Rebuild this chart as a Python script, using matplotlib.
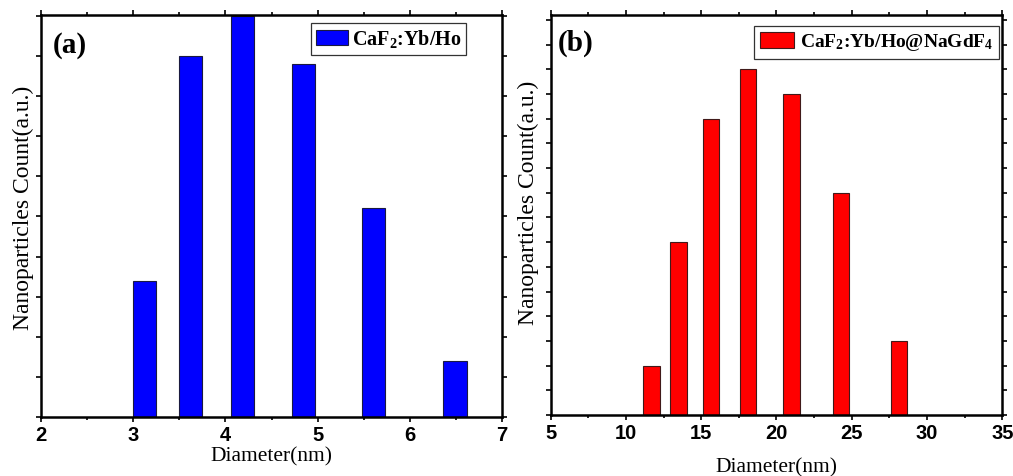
import matplotlib
matplotlib.use("Agg")
import matplotlib.pyplot as plt
from matplotlib.ticker import MultipleLocator

plt.rcParams["mathtext.fontset"] = "custom"
plt.rcParams["mathtext.rm"] = "Liberation Serif:bold"
plt.rcParams["mathtext.bf"] = "Liberation Serif:bold"
plt.rcParams["mathtext.default"] = "rm"

# (a) CaF2:Yb/Ho
d_core = [3.125, 3.62, 4.19, 4.845, 5.61, 6.49]
n_core = [3.4, 9.0, 10.0, 8.8, 5.2, 1.39]

# (b) CaF2:Yb/Ho@NaGdF4
d_shell = [11.7, 13.5, 15.65, 18.1, 21.0, 24.3, 28.15]
n_shell = [2, 7, 12, 14, 13, 9, 3]

serif = "Liberation Serif"
sans = "Liberation Sans"

fig = plt.figure(figsize=(10.13, 4.76), dpi=100)
ax1 = fig.add_axes([0.0405, 0.124, 0.4551, 0.8445])
ax2 = fig.add_axes([0.5436, 0.1282, 0.4458, 0.8403])


def style(ax, xlim, ylim, major, minor):
    ax.set_xlim(*xlim)
    ax.set_ylim(*ylim)
    ax.xaxis.set_major_locator(MultipleLocator(major))
    ax.xaxis.set_minor_locator(MultipleLocator(minor))
    ax.yaxis.set_major_locator(MultipleLocator(1))
    ax.tick_params(which="both", direction="out", top=True, right=True,
                   left=True, bottom=True, width=1.2, labelleft=False)
    ax.tick_params(which="major", length=3.5, pad=3)
    ax.tick_params(which="minor", length=2)
    for s in ax.spines.values():
        s.set_linewidth(1.8)
    for lab in ax.get_xticklabels():
        lab.set_fontfamily(sans)
        lab.set_fontweight("bold")
        lab.set_fontsize(14.5)


ax1.bar(d_core, n_core, width=0.25, color="#0000ff", edgecolor="#1a1a40",
        linewidth=0.8, label=r"CaF$_2$:Yb/Ho")
style(ax1, (2, 7), (0, 10.02), 1, 0.5)
ax1.set_xlabel("Diameter(nm)", fontfamily=serif, fontsize=15.5)
ax1.xaxis.set_label_coords(0.5, -0.076)
ax1.set_ylabel("Nanoparticles Count(a.u.)", fontfamily=serif, fontsize=17)
ax1.yaxis.set_label_coords(-0.015, 0.52)
ax1.text(0.026, 0.923, "(a)", transform=ax1.transAxes, fontfamily=serif,
         fontweight="bold", fontsize=21, va="center", ha="left")
leg1 = ax1.legend(loc="upper right", bbox_to_anchor=(0.922, 0.981),
                  prop={"family": serif, "weight": "bold", "size": 14.5},
                  fancybox=False, edgecolor="#333333", framealpha=1,
                  borderpad=0.25, handlelength=1.6, handleheight=0.75,
                  handletextpad=0.15, borderaxespad=0)
leg1.get_frame().set_linewidth(0.9)

ax2.bar(d_shell, n_shell, width=1.1, color="#ff0000", edgecolor="#401a1a",
        linewidth=0.8, label=r"CaF$_2$:Yb/Ho@NaGdF$_4$")
style(ax2, (5, 35), (0, 16.2), 5, 2.5)
ax2.set_xlabel("Diameter(nm)", fontfamily=serif, fontsize=15.5)
ax2.xaxis.set_label_coords(0.5, -0.108)
ax2.set_ylabel("Nanoparticles Count(a.u.)", fontfamily=serif, fontsize=17)
ax2.yaxis.set_label_coords(-0.025, 0.53)
ax2.text(0.016, 0.93, "(b)", transform=ax2.transAxes, fontfamily=serif,
         fontweight="bold", fontsize=21, va="center", ha="left")
leg2 = ax2.legend(loc="upper right", bbox_to_anchor=(0.993, 0.973),
                  prop={"family": serif, "weight": "bold", "size": 14},
                  fancybox=False, edgecolor="#333333", framealpha=1,
                  borderpad=0.3, handlelength=1.75, handleheight=0.95,
                  handletextpad=0.3, borderaxespad=0)
leg2.get_frame().set_linewidth(0.9)

fig.savefig("out.png", dpi=100)
